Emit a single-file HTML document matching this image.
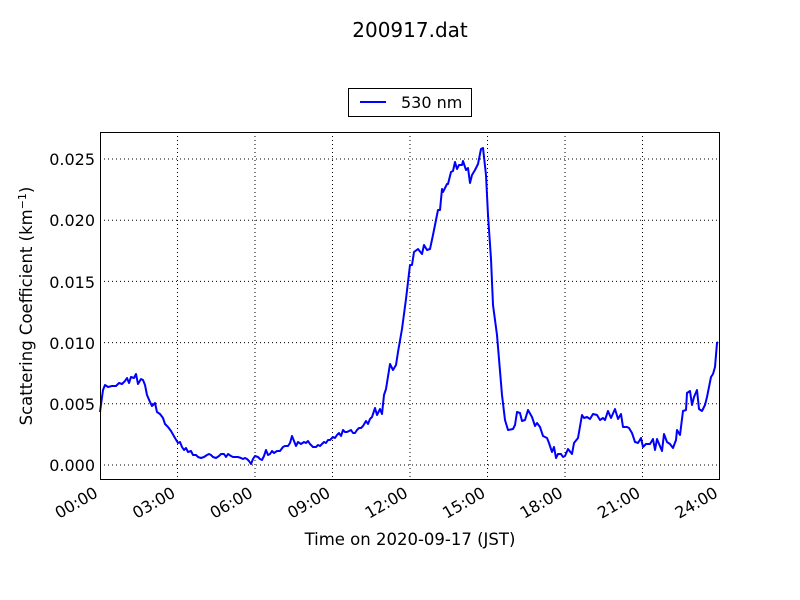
<!DOCTYPE html>
<html><head><meta charset="utf-8"><style>body{margin:0;background:#fff}svg{display:block}</style></head><body>
<svg width="800" height="600" xmlns="http://www.w3.org/2000/svg" font-family="'DejaVu Sans', 'Liberation Sans', sans-serif">
<rect width="800" height="600" fill="#fff"/>
<text x="410" y="37" font-size="20" text-anchor="middle">200917.dat</text>
<rect x="348.5" y="88.5" width="123" height="28" fill="#fff" stroke="#000" stroke-width="1"/>
<line x1="360" y1="102" x2="386" y2="102" stroke="#0000ff" stroke-width="2"/>
<text x="401" y="108" font-size="16">530 nm</text>
<g stroke="#000" stroke-width="1" stroke-dasharray="1,3">
<line x1="177.5" y1="132" x2="177.5" y2="480"/><line x1="255" y1="132" x2="255" y2="480"/><line x1="332.5" y1="132" x2="332.5" y2="480"/><line x1="410" y1="132" x2="410" y2="480"/><line x1="487.5" y1="132" x2="487.5" y2="480"/><line x1="565" y1="132" x2="565" y2="480"/><line x1="642.5" y1="132" x2="642.5" y2="480"/>
<line x1="100" y1="465" x2="720" y2="465"/><line x1="100" y1="403.8" x2="720" y2="403.8"/><line x1="100" y1="342.6" x2="720" y2="342.6"/><line x1="100" y1="281.4" x2="720" y2="281.4"/><line x1="100" y1="220.2" x2="720" y2="220.2"/><line x1="100" y1="159" x2="720" y2="159"/>
</g>
<g id="ticks" stroke="#000" stroke-width="1"></g>
<polyline fill="none" stroke="#0000ff" stroke-width="2" stroke-linejoin="round" points="100,412 103,390 105,385 108,387 112,386 116,386 119,383 122,384 125,381 127,378 129,383 131,377 134,378 136,374 138,384 141,379 143,380 145,385 147,395 150,402 152,406 155,403 157,412 160,414 163,418 165,424 168,427 171,431 175,438 178,443 180,442 182,447 184,450 186,448 188,452 191,451 193,455 196,455 198,457 201,458 204,457 207,455 209,454 211,455 213,457 216,458 219,456 221,454 224,454 226,457 228,454 231,456 233,457 236,457 238,457 241,458 243,459 245,458 247,459 249,461 251,464 253,459 255,456 258,457 260,459 262,460 264,456 266,450 268,455 270,454 272,451 274,453 277,451 280,451 283,447 285,446 288,446 290,443 292,436 294,441 296,446 298,442 301,444 304,442 306,443 308,441 310,444 313,447 316,447 318,445 320,446 322,444 324,442 326,443 328,440 330,440 333,437 335,438 337,435 339,433 341,436 343,430 345,432 347,432 349,431 351,430 353,433 355,433 357,430 359,428 361,428 363,426 366,421 368,424 370,419 372,417 375,408 377,415 380,409 382,414 384,395 386,389 390,364 393,370 396,365 398,352 402,329 406,299 410,265 412,265 414,252 418,249 422,254 424,245 427,250 430,249 433,235 435,225 438,210 440,210 442,189 443,192 447,184 448,184 451,172 453,171 455,162 457,169 459,165 462,165 463,161 466,170 468,168 470,183 472,175 475,170 478,164 481,149 483,148 486,175 488,215 491,259 493,305 497,335 499,359 502,395 505,420 508,430 513,429 515,425 517,412 520,413 522,421 525,420 528,410 532,417 535,426 537,423 540,427 543,436 547,438 549,443 552,452 554,447 556,458 558,454 561,454 563,457 565,456 568,449 572,454 574,443 578,438 582,415 584,418 587,417 590,419 593,414 597,415 600,420 603,418 605,420 608,411 611,418 615,409 618,419 621,414 623,427 627,427 629,428 632,433 635,442 638,443 641,438 643,447 646,444 650,444 653,439 655,450 657,439 662,451 664,434 667,442 670,444 673,448 676,440 677,430 680,435 683,411 686,410 687,393 690,391 692,405 694,397 697,390 699,409 702,411 705,405 707,397 711,377 713,374 715,367 717,343 718,342"/>
<rect x="100.5" y="132.5" width="619" height="347" fill="none" stroke="#000" stroke-width="1"/>
<g font-size="16" text-anchor="end">
<text x="95" y="471">0.000</text><text x="95" y="410">0.005</text><text x="95" y="349">0.010</text><text x="95" y="288">0.015</text><text x="95" y="226">0.020</text><text x="95" y="165">0.025</text>
</g>
<g font-size="16" text-anchor="end">
<text transform="translate(99,496) rotate(-30)">00:00</text><text transform="translate(176.5,496) rotate(-30)">03:00</text><text transform="translate(254,496) rotate(-30)">06:00</text><text transform="translate(331.5,496) rotate(-30)">09:00</text><text transform="translate(409,496) rotate(-30)">12:00</text><text transform="translate(486.5,496) rotate(-30)">15:00</text><text transform="translate(564,496) rotate(-30)">18:00</text><text transform="translate(641.5,496) rotate(-30)">21:00</text><text transform="translate(719,496) rotate(-30)">24:00</text>
</g>
<text x="410" y="545" font-size="16.5" text-anchor="middle">Time on 2020-09-17 (JST)</text>
<text transform="translate(32,306) rotate(-90)" font-size="16.5" text-anchor="middle">Scattering Coefficient (km<tspan baseline-shift="super" font-size="11">−1</tspan>)</text>
<script>
var g=document.getElementById('ticks'),s='';
for(var i=0;i<=24;i++){var x=100+i*620/24,L=i%3==0?6:3;s+='<line x1="'+x+'" y1="480" x2="'+x+'" y2="'+(480-L)+'"/><line x1="'+x+'" y1="132" x2="'+x+'" y2="'+(132+L)+'"/>';}
for(var j=-1;j<=27;j++){var y=465-j*12.24;if(y<132||y>480)continue;var L=j%5==0?6:3;s+='<line x1="100" y1="'+y+'" x2="'+(100+L)+'" y2="'+y+'"/><line x1="720" y1="'+y+'" x2="'+(720-L)+'" y2="'+y+'"/>';}
g.innerHTML=s;
</script>
</svg>
</body></html>
